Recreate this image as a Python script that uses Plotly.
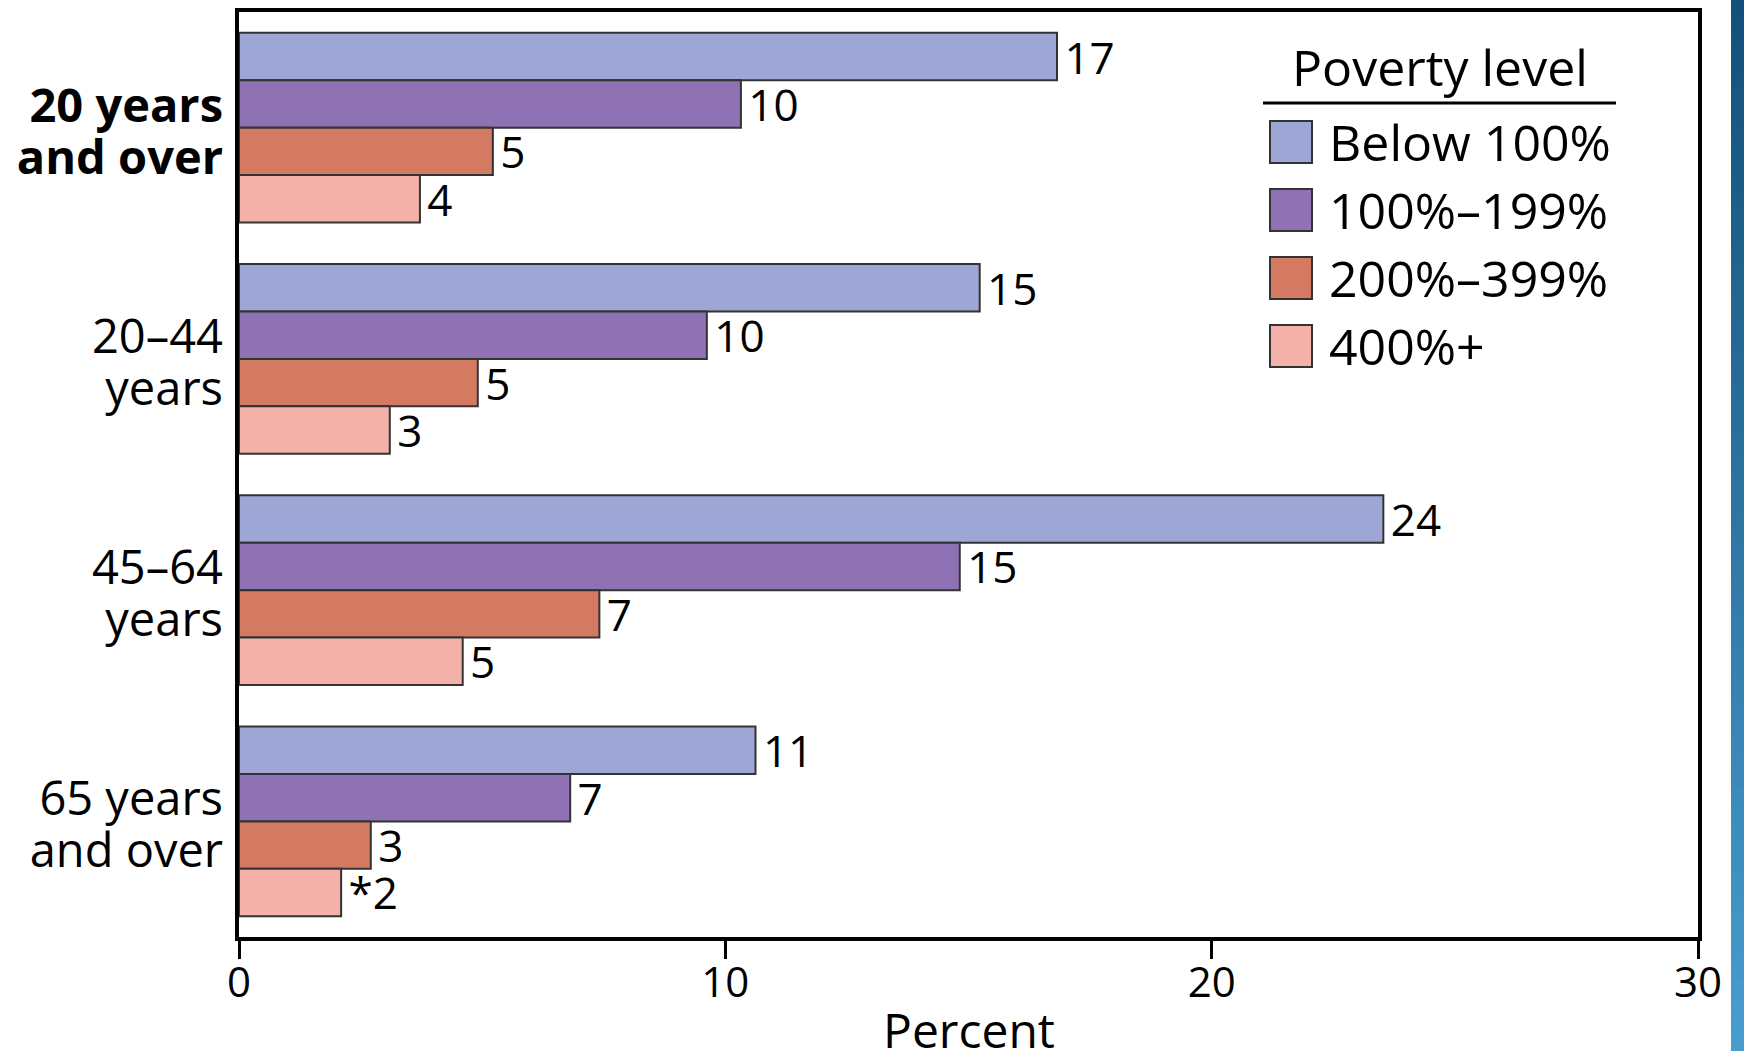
import plotly.graph_objects as go

# ---------------- data ----------------
categories = ["20 years and over", "20–44 years", "45–64 years", "65 years and over"]
tick_lines = [("20 years", "and over"), ("20–44", "years"), ("45–64", "years"), ("65 years", "and over")]
bold_category = "20 years and over"

series_names = ["Below 100%", "100%–199%", "200%–399%", "400%+"]
below_100 = [16.82, 15.23, 23.53, 10.62]
pct_100_199 = [10.32, 9.62, 14.82, 6.81]
pct_200_399 = [5.22, 4.91, 7.41, 2.71]
pct_400_plus = [3.72, 3.10, 4.60, 2.10]

labels_below_100 = ["17", "15", "24", "11"]
labels_100_199 = ["10", "10", "15", "7"]
labels_200_399 = ["5", "5", "7", "3"]
labels_400_plus = ["4", "3", "5", "*2"]

colors = ["#9DA6D5", "#8F72B3", "#D57A62", "#F4B1A9"]

x_ticks = [0, 10, 20, 30]
x_title = "Percent"
legend_title = "Poverty level"

values = [below_100, pct_100_199, pct_200_399, pct_400_plus]
labels = [labels_below_100, labels_100_199, labels_200_399, labels_400_plus]

# ---------------- layout geometry ----------------
W, H = 1744, 1051
L, R, T, B = 239, 1698, 12, 937
FONT = "Open Sans"
TICK_BASE = 40      # controls line spacing of the category labels
TICK_SIZE = 47      # visible size of the category labels


def px(xp):
    return (xp - L) / (R - L)


def py(yp):
    return (B - yp) / (B - T)


def fmt_tick(cat, lines):
    parts = []
    for ln in lines:
        s = '<span style="font-size:%dpx">%s</span>' % (TICK_SIZE, ln)
        if cat == bold_category:
            s = "<b>" + s + "</b>"
        parts.append(s)
    return "<br>".join(parts)


tick_labels = [fmt_tick(c, l) for c, l in zip(categories, tick_lines)]

fig = go.Figure()
for name, vals, labs, col in zip(series_names, values, labels, colors):
    fig.add_trace(go.Bar(
        y=categories, x=vals, name=name, orientation="h",
        text=labs, texttemplate="\u200a%{text}",
        textposition="outside", constraintext="none",
        textfont=dict(family=FONT, size=44, color="black"),
        marker=dict(color=col, line=dict(color="#333333", width=2)),
        cliponaxis=False, showlegend=False,
    ))

shapes = []
annotations = []

# x-axis title
annotations.append(dict(
    x=0.5, y=py(1029), xref="paper", yref="paper", text=x_title,
    showarrow=False, xanchor="center", yanchor="middle",
    font=dict(family=FONT, size=48, color="black")))

# manual legend (large swatches)
annotations.append(dict(
    x=px(1440), y=py(67), xref="paper", yref="paper", text=legend_title,
    showarrow=False, xanchor="center", yanchor="middle",
    font=dict(family=FONT, size=50, color="black")))
shapes.append(dict(type="line", xref="paper", yref="paper",
                   x0=px(1263), x1=px(1616), y0=py(103), y1=py(103),
                   line=dict(color="black", width=3)))
row_y = [142, 210, 278, 346]
for name, col, ry in zip(series_names, colors, row_y):
    shapes.append(dict(type="rect", xref="paper", yref="paper",
                       x0=px(1270), x1=px(1312), y0=py(ry + 21), y1=py(ry - 21),
                       fillcolor=col, line=dict(color="#333333", width=2)))
    annotations.append(dict(
        x=px(1327), y=py(ry), xref="paper", yref="paper", text=name,
        showarrow=False, xanchor="left", yanchor="middle",
        font=dict(family=FONT, size=50, color="black")))

# decorative blue gradient strip at right edge
n = 60
top_c = (0x13, 0x50, 0x7A)
bot_c = (0x48, 0x9D, 0xCF)
for i in range(n):
    t = i / (n - 1)
    c = tuple(int(round(a + (b - a) * t)) for a, b in zip(top_c, bot_c))
    y0p = i * H / n
    y1p = (i + 1) * H / n + 1
    shapes.append(dict(type="rect", xref="paper", yref="paper", layer="above",
                       x0=px(1731), x1=px(1746), y0=py(y1p), y1=py(y0p),
                       fillcolor="rgb(%d,%d,%d)" % c, line=dict(width=0)))

fig.update_layout(
    width=W, height=H, autosize=False,
    margin=dict(l=L, r=W - R, t=T, b=H - B, pad=0),
    paper_bgcolor="white", plot_bgcolor="white",
    barmode="group", bargap=0.18, bargroupgap=0,
    font=dict(family=FONT, size=44, color="black"),
    shapes=shapes, annotations=annotations,
    showlegend=False,
)
fig.update_xaxes(
    range=[0, 30], tickvals=x_ticks, ticktext=[str(v) for v in x_ticks],
    ticks="outside", ticklen=18, tickwidth=3, tickcolor="black",
    showline=True, linewidth=4, linecolor="black", mirror=True,
    showgrid=False, zeroline=False, ticklabelstandoff=-12,
    tickfont=dict(family=FONT, size=42, color="black"),
    automargin=False,
)
fig.update_yaxes(
    type="category", categoryorder="array", categoryarray=categories,
    range=[3.5, -0.5], tickvals=categories, ticktext=tick_labels,
    ticks="", showline=True, linewidth=4, linecolor="black", mirror=True,
    showgrid=False, zeroline=False, ticklabelstandoff=4, ticklabelshift=-6,
    tickfont=dict(family=FONT, size=TICK_BASE, color="black"),
    automargin=False,
)

fig.write_html(
    "out.html",
    config={"displayModeBar": False},
    post_script="document.body.style.margin='0';document.body.style.overflow='hidden';",
)
